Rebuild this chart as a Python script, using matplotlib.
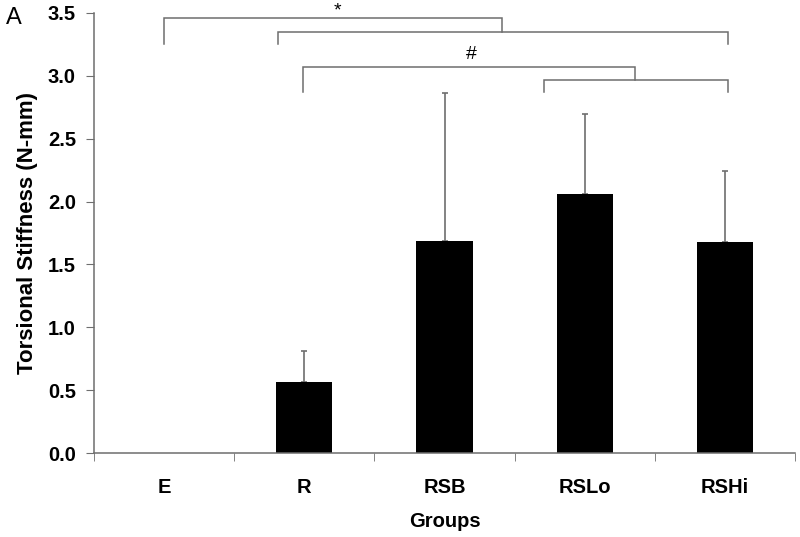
import numpy as np
import matplotlib.pyplot as plt

groups = ["E", "R", "RSB", "RSLo", "RSHi"]
means = [0.0, 0.565, 1.69, 2.06, 1.68]
sd_upper = [0.0, 0.245, 1.17, 0.64, 0.56]

# significance brackets: (x_left, x_right, y_line, y_left_end, y_right_end)
brackets = [
    (0.0, 2.41, 3.46, 3.25, 3.35),
    (0.81, 4.02, 3.35, 3.25, 3.25),
    (0.99, 3.36, 3.07, 2.87, 2.97),
    (2.71, 4.02, 2.97, 2.87, 2.87),
]
marks = [("*", 1.24, 3.52), ("#", 2.19, 3.17)]

plt.rcParams['font.family'] = ['Liberation Sans', 'DejaVu Sans']
grey = "#6e6e6e"
fs = 14.5

fig = plt.figure(figsize=(8, 5.37), dpi=100)
ax = fig.add_axes([0.1175, 0.1564, 0.87625, 0.8194])

x = np.arange(len(groups))
ax.bar(x, means, width=0.4, color="black", zorder=2)
ax.errorbar(x[1:], means[1:], yerr=[np.zeros(4), sd_upper[1:]], fmt="none",
            ecolor=grey, elinewidth=1.2, capsize=2.5, capthick=1.2, zorder=1)

for x0, x1, yl, ya, yb in brackets:
    ax.plot([x0, x0, x1, x1], [ya, yl, yl, yb], color=grey, lw=1.1,
            clip_on=False, solid_joinstyle="miter")
for txt, tx, ty in marks:
    ax.text(tx, ty, txt, ha="center", va="center", fontsize=14, clip_on=False)

ax.set_xlim(-0.5, 4.5)
ax.set_ylim(0, 3.5)
ax.set_yticks(np.arange(0, 3.51, 0.5))
ax.set_yticklabels([f"{v:.1f}" for v in np.arange(0, 3.51, 0.5)],
                   fontsize=fs, fontweight="bold")
ax.set_xticks(x)
ax.set_xticklabels(groups, fontsize=fs, fontweight="bold")
ax.set_xticks(np.arange(-0.5, 4.6, 1.0), minor=True)
ax.tick_params(axis="x", which="major", length=0, pad=18)
ax.tick_params(axis="x", which="minor", length=6, color=grey, direction="out")
ax.tick_params(axis="y", length=6, color=grey, direction="out", pad=7)

for s in ["top", "right"]:
    ax.spines[s].set_visible(False)
for s in ["left", "bottom"]:
    ax.spines[s].set_color(grey)
    ax.spines[s].set_linewidth(1.1)

ax.set_ylabel("Torsional Stiffness (N-mm)", fontsize=16, fontweight="bold",
              labelpad=7)
ax.set_xlabel("Groups", fontsize=fs, fontweight="bold", labelpad=11)
fig.text(0.007, 0.966, "A", fontsize=17, va="center", ha="left")

fig.savefig("out.png", dpi=100)
